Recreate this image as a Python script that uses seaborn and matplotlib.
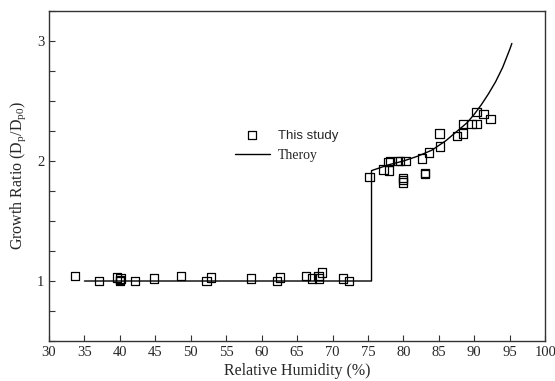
import numpy as np
import pandas as pd
import seaborn as sns
import matplotlib
matplotlib.use("Agg")
import matplotlib.pyplot as plt
from matplotlib.ticker import MultipleLocator

# measured growth ratios (this study)
rh = [33.7, 37.1, 39.6, 40.0, 40.0, 40.1, 42.1, 44.8, 48.6, 52.2, 52.9, 58.5,
      62.2, 62.6, 66.3, 67.1, 68.0, 68.1, 68.5, 71.5, 72.3,
      75.2, 77.2, 78.0, 77.9, 78.1, 79.2, 79.5, 80.3, 79.9, 79.9, 79.9,
      82.6, 83.0, 83.0, 83.6, 85.2, 85.1, 87.6, 88.4, 88.4, 89.6, 90.3,
      90.3, 91.3, 92.3]
gr = [1.04, 1.00, 1.03, 1.00, 1.01, 1.02, 1.00, 1.02, 1.04, 1.00, 1.03, 1.02,
      1.00, 1.03, 1.04, 1.02, 1.04, 1.02, 1.07, 1.02, 1.00,
      1.865, 1.93, 1.92, 1.99, 2.00, 2.00, 2.00, 2.00, 1.82, 1.84, 1.86,
      2.02, 1.89, 1.90, 2.07, 2.12, 2.23, 2.21, 2.23, 2.31, 2.31, 2.31,
      2.41, 2.39, 2.35]

# theory curve
theory_rh = [35, 75.5, 75.5, 76, 78, 80, 82, 84, 86, 88, 89, 90, 91, 92, 93,
             94, 95, 95.3]
theory_gr = [1.0, 1.0, 1.92, 1.93, 1.97, 2.00, 2.04, 2.09, 2.17, 2.27, 2.32,
             2.39, 2.47, 2.56, 2.66, 2.78, 2.93, 2.98]

sns.set_style("ticks")
plt.rcParams["font.family"] = "Liberation Serif"
plt.rcParams["mathtext.fontset"] = "custom"
plt.rcParams["mathtext.rm"] = "Liberation Serif"
plt.rcParams["mathtext.it"] = "Liberation Serif:italic"

fig = plt.figure(figsize=(5.55, 3.81), dpi=100)
ax = fig.add_axes([0.0883, 0.105, 0.894, 0.866])

df = pd.DataFrame({"rh": rh, "gr": gr})
sns.scatterplot(data=df, x="rh", y="gr", marker="s", s=36, facecolors="none",
                edgecolors="black", linewidth=0.9, ax=ax, label="This study")
sns.lineplot(x=theory_rh, y=theory_gr, sort=False, estimator=None,
             color="black", lw=1, ax=ax, label="Theroy")

ax.set_xlim(30, 100)
ax.set_ylim(0.5, 3.25)
ax.xaxis.set_major_locator(MultipleLocator(5))
ax.yaxis.set_major_locator(MultipleLocator(1))
ax.yaxis.set_minor_locator(MultipleLocator(0.25))
ax.tick_params(which="both", direction="in", length=4, width=0.8,
               labelsize=10.5, color="#333333")
for s in ax.spines.values():
    s.set_color("#333333")
    s.set_linewidth(1)

ax.set_xlabel("Relative Humidity (%)", fontsize=11.5, labelpad=3)
ax.set_ylabel(r"Growth Ratio (D$_\mathrm{p}$/D$_\mathrm{p0}$)", fontsize=11.5,
              labelpad=6)

leg = ax.legend(loc="upper left", bbox_to_anchor=(228 / 555, 1 - 122 / 381),
                bbox_transform=fig.transFigure, frameon=False, borderpad=0,
                handlelength=2.5, handletextpad=0.6, labelspacing=0.55,
                fontsize=10)
leg.get_texts()[0].set_family("Liberation Sans")
leg.get_texts()[0].set_fontsize(9.5)

fig.savefig("out.png", dpi=100)
